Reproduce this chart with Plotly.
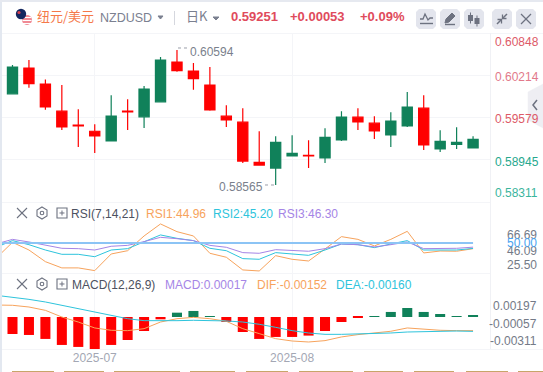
import plotly.graph_objects as go

W, H = 543, 372

# ---- data ----
candle_pos = list(range(29))
opens  = [.59935,.60322,.60081,.59674,.59464,.59373,.59228,.59674,.59589,.59815,.60412,.60277,.60066,.59599,.59509,.58906,.58821,.59002,.59012,.58972,.59243,.59584,.59494,.59318,.59453,.5972,.59107,.59177,.59122]
highs  = [.60367,.60442,.60151,.60066,.59705,.59479,.59915,.59855,.60051,.60488,.60594,.60397,.60337,.59765,.5972,.59373,.59298,.59313,.59238,.59418,.59674,.5972,.59599,.59659,.59961,.59915,.59388,.59433,.59298]
lows   = [.59935,.60026,.59694,.59393,.59137,.59047,.59228,.59393,.59423,.59815,.60267,.59996,.59679,.59438,.58896,.58866,.58565,.59002,.58821,.58896,.59228,.59393,.59258,.59137,.59438,.59092,.59062,.59107,.59122]
closes = [.60337,.60086,.5974,.59438,.59453,.59303,.59599,.59664,.60006,.60442,.60282,.60161,.59694,.59544,.58926,.58866,.59208,.59042,.59002,.59283,.59584,.59514,.59378,.59524,.59735,.59167,.59223,.59208,.59251]

line_pos = list(range(-1, 29))
rsi1 = [36.5,50.6,43.8,33.5,28.0,28.0,25.6,40.3,43.2,56.2,66.8,60.0,56.2,40.9,37.4,26.2,25.3,38.8,35.6,34.1,44.7,55.6,53.2,47.4,53.2,60.3,41.2,42.9,42.7,44.96]
rsi2 = [46.2,52.1,48.5,43.8,40.0,40.0,37.9,43.8,45.0,51.2,57.1,54.1,52.1,45.3,43.2,36.2,35.6,41.5,40.0,39.1,43.8,49.1,48.5,45.9,49.1,52.1,43.8,43.8,43.8,45.2]
rsi3 = [49.1,53.2,50.9,48.2,45.3,45.0,43.8,47.1,47.9,51.2,55.0,53.8,52.1,47.9,46.2,41.5,40.9,44.1,43.2,42.7,45.0,49.1,48.5,46.5,48.5,50.9,45.0,45.0,45.3,46.3]
rsi_mid = [50.0] * len(line_pos)

macd_bar = [-.00189,-.00200,-.00244,-.00311,-.00333,-.00356,-.00311,-.00256,-.00156,-.00026,.00048,.00067,.00004,-.00056,-.00167,-.00244,-.00222,-.00222,-.00207,-.00156,-.00056,-.00011,.00011,.00056,.00100,.00056,.00033,.00011,.00017]
dif = [.00133,.0013,.00111,.00074,0.0,-.00056,-.00122,-.00148,-.00152,-.0013,-.00056,-.00019,-.00004,-.00019,-.00048,-.0013,-.00185,-.00241,-.00267,-.00278,-.00263,-.00222,-.00196,-.00181,-.00159,-.00122,-.00137,-.00148,-.00152,-.00152]
dea = [.00241,.00222,.00196,.00167,.0013,.00093,.00056,.00015,-.00019,-.00041,-.00044,-.00041,-.00037,-.00037,-.00044,-.00056,-.00081,-.00115,-.00152,-.00178,-.00193,-.00193,-.00189,-.00185,-.00178,-.00167,-.00163,-.00159,-.00156,-.0016]

price_ticks = [0.60848, 0.60214, 0.59579, 0.58945, 0.58311]
month_pos = [5, 17]
month_labels = ["2025-07", "2025-08"]

RED, GREEN = "#ff0000", "#10815a"
ORANGE, CYAN, PURPLE = "#f7a35c", "#2ec4dc", "#a585e6"
GRID = "#f4f5f8"
FONT = "Liberation Sans"

def px(x): return x / W
def py(y): return 1 - y / H

ann, shp = [], []
def text(x, y, s, color, size=12, anchor="left", family=FONT):
    ann.append(dict(x=px(x), y=py(y), xref="paper", yref="paper", text=s, showarrow=False,
                    xanchor=anchor, yanchor="middle", font=dict(color=color, size=size, family=family), borderpad=0))
def rect(x0, y0, x1, y1, fill, layer="below"):
    shp.append(dict(type="rect", xref="paper", yref="paper", x0=px(x0), x1=px(x1), y0=py(y0), y1=py(y1),
                    fillcolor=fill, line_width=0, layer=layer))
def circle(cx, cy, r, fill, lc=None, lw=0):
    shp.append(dict(type="circle", xref="paper", yref="paper", x0=px(cx-r), x1=px(cx+r), y0=py(cy-r), y1=py(cy+r),
                    fillcolor=fill, line=dict(color=lc or fill, width=lw), layer="above"))
def path(points, color, width=1.3, fill=None, closed=False, dash=None):
    d = "M " + " L ".join(f"{px(a):.5f},{py(b):.5f}" for a, b in points) + (" Z" if closed else "")
    s = dict(type="path", xref="paper", yref="paper", path=d, line=dict(color=color, width=width, dash=dash or "solid"), layer="above")
    if fill: s["fillcolor"] = fill
    shp.append(s)

# page frame
rect(0, 0, 2, H, "#e3e8f0")
rect(0, 0, W, 2, "#e6e9f0")
rect(2, 33, W, 34, GRID)
rect(490, 33, 491, 349, "#f0f1f5")
rect(2, 202, 490, 203, GRID)
rect(2, 273, 490, 274, GRID)
rect(2, 349, 543, 350, GRID)

# header
circle(27, 20, 5, "#f08a94")
rect(23, 17, 31, 18, "#ffffff", "above"); rect(22.5, 20, 31.5, 21, "#ffffff", "above"); rect(23, 23, 31, 24, "#ffffff", "above")
circle(21, 14, 5.2, "#14275f")
circle(19, 12.5, 1.6, "#d8414f")
text(36, 16, "纽元/美元", "#f5794a", 13, family="Noto Sans CJK SC")
text(99, 18, "NZDUSD", "#7b8090", 12.5)
path([(158, 16), (163, 16), (160.5, 19)], "#7b8090", 1, "#7b8090", True)
rect(174, 11, 175, 25, "#d5d7de", "above")
text(185, 16, "日K", "#7b8090", 13, family="Noto Sans CJK SC")
path([(213, 17), (219, 17), (216, 20)], "#7b8090", 1, "#7b8090", True)
text(229.5, 17, "<b>0.59251</b>", "#df4b5c", 13)
text(289, 17, "<b>+0.00053</b>", "#df4b5c", 13)
text(359, 17, "<b>+0.09%</b>", "#df4b5c", 13)

# toolbar buttons
for x0 in (416, 440, 464, 492, 516):
    shp.append(dict(type="path", xref="paper", yref="paper", layer="above", fillcolor="#e3e5ed", line_width=0,
                    path="M " + " L ".join(f"{px(a):.5f},{py(b):.5f}" for a, b in
                        [(x0+3, 9), (x0+17, 9), (x0+20, 12), (x0+20, 26), (x0+17, 29), (x0+3, 29), (x0, 26), (x0, 12)]) + " Z"))
IC = "#6d7280"
path([(420, 19), (423, 19), (425, 14), (428, 20), (430, 18), (433, 18)], IC)
path([(420, 23.5), (433, 23.5)], IC, 1.4)
path([(445, 23), (446, 19), (452, 13), (455, 16), (449, 22)], IC, 1, IC, True)
path([(445, 24.5), (455, 24.5)], IC, 1.4)
for a, b, c, d in [(470.5, 15, 21, 12.5), (477, 18, 24, 15.5)]:
    rect(a-2.5, b, a+2.5, c, IC, "above")
    path([(a, d), (a, c+2.5)], IC, 1)
path([(497, 24), (501, 20)], IC, 1.5); path([(497.5, 19.5), (501.5, 19.5), (501.5, 23.5)], IC, 1.3)
path([(507, 14), (503, 18)], IC, 1.5); path([(502.5, 14.5), (502.5, 18.5), (506.5, 18.5)], IC, 1.3)
path([(521, 14), (531, 24)], IC, 1.2); path([(531, 14), (521, 24)], IC, 1.2)

# side tab
path([(528, 92), (543, 84), (543, 128), (528, 120)], "#eeeef3", 0.5, "#eeeef3", True)
path([(537, 100), (533, 105), (537, 110)], "#6d7280", 1.5)

# price labels
label_y = [42, 76.7, 119.3, 161.7, 192.7]
label_c = ["#dd5a68", "#e2798a", "#dd5a68", "#27a88e", "#3bb59d"]
for v, y, c in zip(price_ticks, label_y, label_c):
    text(494, y, f"{v:.5f}", c, 12)

# high/low markers
text(189, 51.7, "0.60594", "#7a7f8c", 12)
text(218, 187, "0.58565", "#7a7f8c", 12)
path([(178, 48), (188, 48)], "#9a9ea9", 1, dash="dot")
path([(265, 185), (275, 185)], "#9a9ea9", 1, dash="dot")

# indicator headers
for y in (213, 284):
    path([(17, y-5), (27, y+5)], IC, 1.1); path([(27, y-5), (17, y+5)], IC, 1.1)
    hexa = [(42, y-6), (47, y-3), (47, y+3), (42, y+6), (37, y+3), (37, y-3)]
    path(hexa, IC, 1.1, None, True)
    circle(42, y, 1.8, "#ffffff", IC, 1.1)
    path([(57, y-5), (67, y-5), (67, y+5), (57, y+5)], IC, 1.1, None, True)
    path([(59.5, y), (64.5, y)], IC, 1); path([(62, y-2.5), (62, y+2.5)], IC, 1)
text(70, 213.5, "RSI(7,14,21)", "#4c5160", 12)
text(145, 213.5, "RSI1:44.96", ORANGE, 12)
text(212, 213.5, "RSI2:45.20", CYAN, 12)
text(277, 213.5, "RSI3:46.30", PURPLE, 12)
text(71, 284.5, "MACD(12,26,9)", "#4c5160", 12)
text(164, 284.5, "MACD:0.00017", PURPLE, 12)
text(256, 284.5, "DIF:-0.00152", ORANGE, 12)
text(335, 284.5, "DEA:-0.00160", CYAN, 12)

for s, y, c in [("66.69", 235, "#747a87"), ("46.09", 251, "#747a87"), ("25.50", 265, "#747a87"), ("50.00", 243, "#4aa3f0")]:
    text(538, y, s, c, 12, "right")
for s, y in [("0.00197", 306), ("-0.00057", 323.7), ("-0.00311", 341)]:
    text(538, y, s, "#747a87", 12, "right")

# bottom tab edges
for a, b in [(12, 54), (64, 104), (114, 180), (190, 235), (246, 288), (299, 353), (364, 403), (414, 454), (466, 508), (518, 543)]:
    rect(a, 371, b, 372, "#c8a56a", "above")

fig = go.Figure()
fig.add_trace(go.Candlestick(x=candle_pos, open=opens, high=highs, low=lows, close=closes,
    whiskerwidth=0, xaxis="x", yaxis="y",
    increasing=dict(line=dict(color=GREEN, width=1.2), fillcolor=GREEN),
    decreasing=dict(line=dict(color=RED, width=1.2), fillcolor=RED), hoverinfo="skip"))
for vals, c in [(rsi1, ORANGE), (rsi2, CYAN), (rsi3, PURPLE)]:
    fig.add_trace(go.Scatter(x=line_pos, y=vals, mode="lines", line=dict(color=c, width=1), xaxis="x2", yaxis="y2", hoverinfo="skip"))
fig.add_trace(go.Scatter(x=line_pos, y=rsi_mid, mode="lines", line=dict(color="#8cc4f5", width=2), xaxis="x2", yaxis="y2", hoverinfo="skip"))
fig.add_trace(go.Bar(x=candle_pos, y=macd_bar, width=0.61, marker=dict(color=[GREEN if v > 0 else RED for v in macd_bar], line_width=0),
                     xaxis="x3", yaxis="y3", hoverinfo="skip"))
fig.add_trace(go.Scatter(x=line_pos, y=dif, mode="lines", line=dict(color=ORANGE, width=1), xaxis="x3", yaxis="y3", hoverinfo="skip"))
fig.add_trace(go.Scatter(x=line_pos, y=dea, mode="lines", line=dict(color=CYAN, width=1), xaxis="x3", yaxis="y3", hoverinfo="skip"))

xr = [-0.638, 29.03]
xdom = [px(2), px(490)]
def xa(anchor, **kw):
    d = dict(domain=xdom, range=xr, anchor=anchor, showline=False, zeroline=False, tickvals=month_pos,
             ticktext=["", ""], showgrid=True, gridcolor=GRID, gridwidth=1, ticks="", rangeslider=dict(visible=False),
             tickfont=dict(family=FONT, size=12, color="#a3a7b4"))
    d.update(kw); return d
def ya(top, bottom, rng, ticks):
    return dict(domain=[py(bottom), py(top)], range=rng, showticklabels=False, showline=False, zeroline=False,
                tickvals=ticks, showgrid=True, gridcolor=GRID, gridwidth=1, ticks="")

fig.update_layout(
    width=W, height=H, margin=dict(l=0, r=0, t=0, b=0), paper_bgcolor="#ffffff", plot_bgcolor="#ffffff",
    showlegend=False, boxgap=0.38, boxgroupgap=0, bargap=0.3, annotations=ann, shapes=shp,
    xaxis=xa("y"), xaxis2=xa("y2"), xaxis3=xa("y3", ticktext=month_labels),
    yaxis=ya(33, 202, [0.58311, 0.60848], price_ticks[1:4]),
    yaxis2=ya(203, 273, [23.5, 85.3], []),
    yaxis3=ya(274, 349, [-0.00356, 0.00478], []),
)
fig.write_html("out.html", config=dict(displayModeBar=False),
               post_script="document.body.style.margin='0';document.documentElement.style.overflow='hidden';")
